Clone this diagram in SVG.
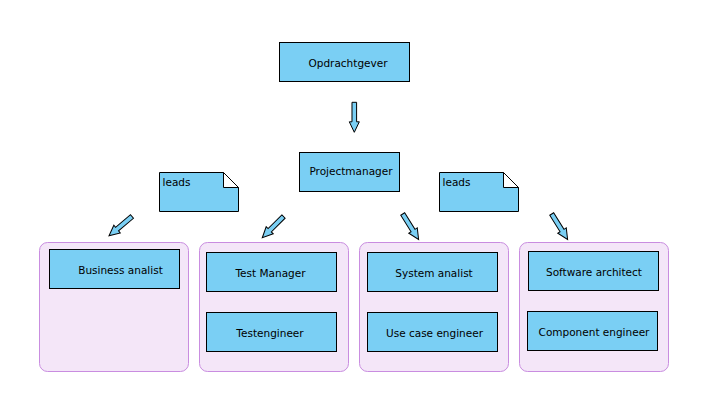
<svg xmlns="http://www.w3.org/2000/svg" width="702" height="407" viewBox="0 0 702 407">
<style>
.box{fill:#7acff4;stroke:#000;stroke-width:1}
.cont{fill:#f4e6f8;stroke:#c98de0;stroke-width:1}
.note{fill:#7acff4;stroke:#000;stroke-width:1}
.fold{fill:#fff;stroke:#000;stroke-width:1}
.arr{fill:#7acff4;stroke:#000;stroke-width:1;stroke-linejoin:miter}
text{font-family:"DejaVu Sans","Liberation Sans",sans-serif;font-size:10.5px;fill:#000}
.c{text-anchor:middle}
</style>
<defs>
<polygon id="blk" points="-2.3,0 2.3,0 2.3,19.5 5,19.5 0,30 -5,19.5 -2.3,19.5"/>
</defs>
<rect width="702" height="407" fill="#fff"/>
<g id="group-business">
<rect class="cont" x="39.5" y="242.5" width="149" height="129" rx="8"/>
</g>
<g id="group-test">
<rect class="cont" x="199.5" y="242.5" width="149" height="129" rx="8"/>
</g>
<g id="group-system">
<rect class="cont" x="359.5" y="242.5" width="149" height="129" rx="8"/>
</g>
<g id="group-software">
<rect class="cont" x="519.5" y="242.5" width="149" height="129" rx="8"/>
</g>
<g id="opdrachtgever"><rect class="box" x="279.5" y="42.5" width="130" height="39"/><text class="c" x="348" y="67">Opdrachtgever</text></g>
<g id="projectmanager"><rect class="box" x="299.5" y="152.5" width="100" height="39"/><text class="c" x="351" y="175">Projectmanager</text></g>
<g id="note1"><path class="note" d="M159.5,172.5 H223.5 L238.5,187.5 V211.5 H159.5 Z"/><path class="fold" d="M223.5,172.5 V187.5 H238.5 Z"/><text x="162.5" y="186">leads</text></g>
<g id="note2"><path class="note" d="M439.5,172.5 H503.5 L518.5,187.5 V211.5 H439.5 Z"/><path class="fold" d="M503.5,172.5 V187.5 H518.5 Z"/><text x="442.5" y="186">leads</text></g>
<g id="business-analist"><rect class="box" x="49.5" y="249.5" width="130" height="39"/><text class="c" x="120.5" y="274">Business analist</text></g>
<g id="test-manager"><rect class="box" x="206.5" y="252.5" width="130" height="39"/><text class="c" x="270.5" y="277">Test Manager</text></g>
<g id="testengineer"><rect class="box" x="206.5" y="312.5" width="130" height="39"/><text class="c" x="270" y="337">Testengineer</text></g>
<g id="system-analist"><rect class="box" x="367.5" y="252.5" width="130" height="39"/><text class="c" x="434" y="277">System analist</text></g>
<g id="use-case-engineer"><rect class="box" x="367.5" y="312.5" width="130" height="39"/><text class="c" x="434.5" y="337">Use case engineer</text></g>
<g id="software-architect"><rect class="box" x="528.5" y="251.5" width="130" height="39"/><text class="c" x="594" y="276">Software architect</text></g>
<g id="component-engineer"><rect class="box" x="527.5" y="311.5" width="130" height="39"/><text class="c" x="594" y="336">Component engineer</text></g>
<g id="connectors">
<use href="#blk" class="arr" transform="translate(354.3,102.3)"/>
<use href="#blk" class="arr" transform="translate(132,216.5) rotate(50)"/>
<use href="#blk" class="arr" transform="translate(283.5,216.5) rotate(45)"/>
<use href="#blk" class="arr" transform="translate(402.7,214) rotate(-32)"/>
<use href="#blk" class="arr" transform="translate(551.7,214) rotate(-32)"/>
</g>
</svg>
